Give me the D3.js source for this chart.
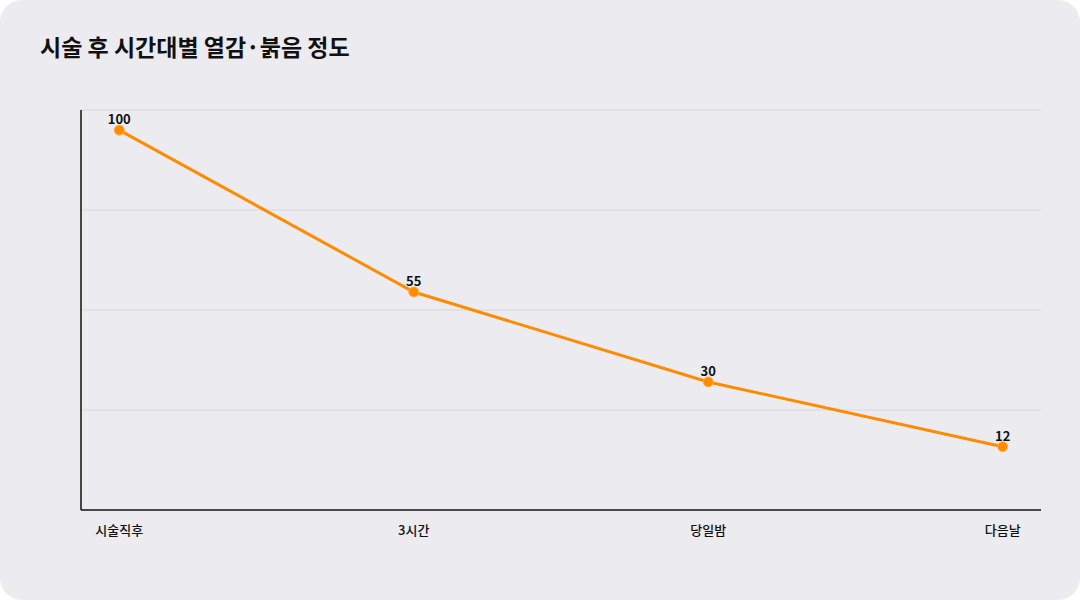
<!DOCTYPE html>
<html><head><meta charset="utf-8">
<script src="https://cdn.jsdelivr.net/npm/d3@7"></script>
<style>
body{margin:0;background:#fff;font-family:"Noto Sans CJK KR","Noto Sans",sans-serif;}
</style></head>
<body>
<svg id="chart" width="1080" height="600"></svg>
<script>
const title = '시술 후 시간대별 열감·붉음 정도';
const categories = ['시술직후', '3시간', '당일밤', '다음날'];
const values = [100, 55, 30, 12];

const svg = d3.select('#chart');
svg.append('rect').attr('width', 1080).attr('height', 600).attr('rx', 22).attr('fill', '#ebebf0');

svg.append('text').attr('x', 40).attr('y', 56)
    .attr('font-size', 23).attr('font-weight', 700).attr('fill', '#111')
    .text(title);

const plotLeft = 81, plotRight = 1041, plotTop = 110, plotBottom = 510;

const x = d3.scalePoint().domain(categories).range([plotLeft, plotRight]).padding(0.13);
const y = d3.scaleLinear().domain([-5.6, 105.6]).range([plotBottom, plotTop]);

// grid lines: 4 even bands
d3.range(4).forEach(i => {
    const gy = plotTop + i * (plotBottom - plotTop) / 4;
    svg.append('line').attr('x1', plotLeft).attr('x2', plotRight).attr('y1', gy).attr('y2', gy)
        .attr('stroke', '#d6d6dc').attr('stroke-width', 1);
});

svg.append('line').attr('x1', plotLeft).attr('x2', plotLeft).attr('y1', plotTop).attr('y2', plotBottom)
    .attr('stroke', '#111').attr('stroke-width', 1.5);
svg.append('line').attr('x1', plotLeft).attr('x2', plotRight).attr('y1', plotBottom).attr('y2', plotBottom)
    .attr('stroke', '#111').attr('stroke-width', 1.5);

svg.selectAll('.xl').data(categories).enter().append('text')
    .attr('x', d => x(d)).attr('y', 535).attr('text-anchor', 'middle')
    .attr('font-size', 13).attr('font-weight', 500).attr('fill', '#111')
    .text(d => d);

const line = d3.line().x((d, i) => x(categories[i])).y(d => y(d));
svg.append('path').datum(values).attr('d', line)
    .attr('fill', 'none').attr('stroke', '#ff8c00').attr('stroke-width', 3);

svg.selectAll('.pt').data(values).enter().append('circle')
    .attr('cx', (d, i) => x(categories[i])).attr('cy', d => y(d)).attr('r', 5)
    .attr('fill', '#ff8c00').attr('stroke', '#ffb04d').attr('stroke-width', 1);

svg.selectAll('.vl').data(values).enter().append('text')
    .attr('x', (d, i) => x(categories[i])).attr('y', d => y(d) - 6)
    .attr('text-anchor', 'middle').attr('font-size', 13).attr('font-weight', 700).attr('fill', '#111')
    .text(d => d);
</script>
</body></html>
